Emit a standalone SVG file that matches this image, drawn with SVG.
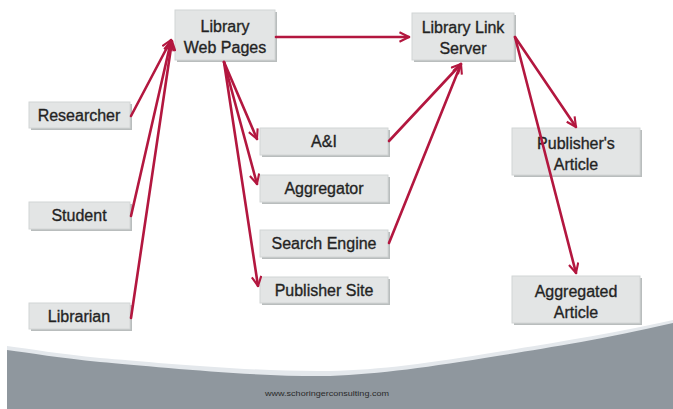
<svg xmlns="http://www.w3.org/2000/svg" width="673" height="409" viewBox="0 0 673 409">
  <style>
    .box { fill: #e3e5e5; stroke: #d2d5d5; stroke-width: 1; }
    .shadow { fill: #b9bdbd; }
    .label { font-family: "Liberation Sans", Arial, sans-serif; font-size: 16px; fill: #1f1f1f; stroke: #2a2a2a; stroke-width: 0.35px; text-anchor: middle; }
    .edge { fill: none; stroke: #b3173f; stroke-width: 2.6; stroke-linecap: round; marker-end: url(#head); }
    .footer { font-family: "Liberation Sans", Arial, sans-serif; font-size: 7px; fill: #2a2a2a; text-anchor: middle; }
  </style>
  <defs>
    <marker id="head" viewBox="0 0 12 12" refX="11" refY="6" markerWidth="4.4" markerHeight="4.4" orient="auto" markerUnits="strokeWidth">
      <path d="M1,1 L11,6 L1,11" fill="none" stroke="#b3173f" stroke-width="2.2" stroke-linejoin="miter"/>
    </marker>
  </defs>

  <!-- page background with curved grey footer -->
  <rect x="0" y="0" width="673" height="409" fill="#ffffff"/>
  <rect x="7" y="318" width="666" height="91" fill="#8f979e"/>
  <path d="M0,0 H673 V323 C600,340 540,349 497,356 C430,367 380,374 330,376 C250,377 150,366 100,362 C60,358 30,353 7,350 V409 H0 Z" fill="#e4e8ec"/>
  <path d="M0,0 H673 V320 C600,336 540,345 497,352 C430,363 380,370 330,371 C250,372 150,362 100,358 C60,354 30,349 7,346 V409 H0 Z" fill="#ffffff"/>
  <rect x="0" y="330" width="7" height="79" fill="#ffffff"/>
  <text class="footer" x="327" y="396" textLength="124" lengthAdjust="spacingAndGlyphs">www.schoringerconsulting.com</text>

  <!-- nodes -->
  <g id="library-web-pages">
    <rect class="shadow" x="177" y="12" width="100" height="50"/>
    <rect class="box" x="175" y="10" width="100" height="50"/>
    <text class="label" x="225" y="32">Library</text>
    <text class="label" x="225" y="53">Web Pages</text>
  </g>
  <g id="library-link-server">
    <rect class="shadow" x="414" y="15" width="102" height="47"/>
    <rect class="box" x="412" y="13" width="102" height="47"/>
    <text class="label" x="463" y="33">Library Link</text>
    <text class="label" x="463" y="54">Server</text>
  </g>
  <g id="researcher">
    <rect class="shadow" x="31" y="104" width="101" height="26"/>
    <rect class="box" x="29" y="102" width="101" height="26"/>
    <text class="label" x="79" y="121">Researcher</text>
  </g>
  <g id="student">
    <rect class="shadow" x="31" y="204" width="101" height="27"/>
    <rect class="box" x="29" y="202" width="101" height="27"/>
    <text class="label" x="79" y="221">Student</text>
  </g>
  <g id="librarian">
    <rect class="shadow" x="31" y="305" width="101" height="26"/>
    <rect class="box" x="29" y="303" width="101" height="26"/>
    <text class="label" x="79" y="322">Librarian</text>
  </g>
  <g id="a-and-i">
    <rect class="shadow" x="262" y="130" width="128" height="27"/>
    <rect class="box" x="260" y="128" width="128" height="27"/>
    <text class="label" x="324" y="147">A&amp;I</text>
  </g>
  <g id="aggregator">
    <rect class="shadow" x="262" y="177" width="128" height="27"/>
    <rect class="box" x="260" y="175" width="128" height="27"/>
    <text class="label" x="324" y="194">Aggregator</text>
  </g>
  <g id="search-engine">
    <rect class="shadow" x="262" y="232" width="128" height="27"/>
    <rect class="box" x="260" y="230" width="128" height="27"/>
    <text class="label" x="324" y="249">Search Engine</text>
  </g>
  <g id="publisher-site">
    <rect class="shadow" x="262" y="279" width="128" height="26"/>
    <rect class="box" x="260" y="277" width="128" height="26"/>
    <text class="label" x="324" y="296">Publisher Site</text>
  </g>
  <g id="publishers-article">
    <rect class="shadow" x="514" y="130" width="128" height="47"/>
    <rect class="box" x="512" y="128" width="128" height="47"/>
    <text class="label" x="576" y="149">Publisher's</text>
    <text class="label" x="576" y="170">Article</text>
  </g>
  <g id="aggregated-article">
    <rect class="shadow" x="514" y="278" width="128" height="47"/>
    <rect class="box" x="512" y="276" width="128" height="47"/>
    <text class="label" x="576" y="297">Aggregated</text>
    <text class="label" x="576" y="318">Article</text>
  </g>

  <!-- connectors, drawn over the boxes -->
  <g id="connectors">
    <path class="edge" d="M276,37 L409,37"/>
    <path class="edge" d="M131,116 L171,40"/>
    <path class="edge" d="M131,216 L171,41"/>
    <path class="edge" d="M131,318 L172,41"/>
    <path class="edge" d="M224,62 L257,139"/>
    <path class="edge" d="M224,62 L257,184"/>
    <path class="edge" d="M224,62 L258,286"/>
    <path class="edge" d="M389,141 L461,64"/>
    <path class="edge" d="M389,243 L461,64"/>
    <path class="edge" d="M515,37 L576,127"/>
    <path class="edge" d="M515,37 L576,273"/>
  </g>
</svg>
